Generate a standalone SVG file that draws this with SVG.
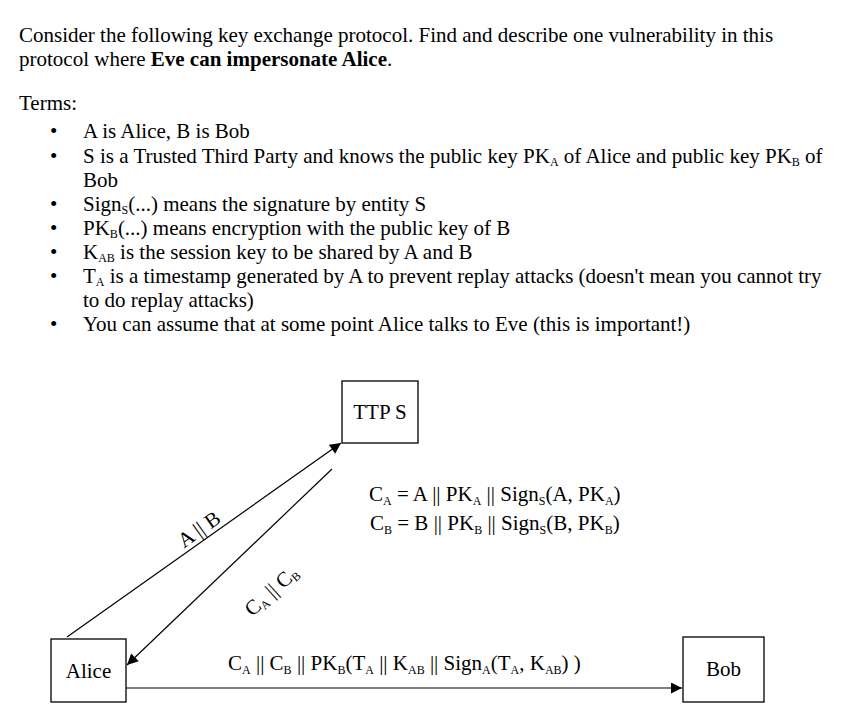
<svg xmlns="http://www.w3.org/2000/svg" width="868" height="714" viewBox="0 0 868 714">
<style>
text{font-family:"Liberation Serif",serif;font-size:21px;fill:#000}
.s{font-size:12px}
.box{fill:#fff;stroke:#000;stroke-width:1.3}
.ln{stroke:#000;stroke-width:1.2;fill:none}
</style>
<defs><marker id="ah" viewBox="0 0 10 10" refX="10" refY="5" markerWidth="14" markerHeight="11" markerUnits="userSpaceOnUse" orient="auto"><path d="M0,0L10,5L0,10z"/></marker></defs>
<rect width="868" height="714" fill="#fff"/>
<text x="19" y="42">Consider the following key exchange protocol. Find and describe one vulnerability in this</text>
<text x="19" y="66">protocol where <tspan font-weight="bold">Eve can impersonate Alice</tspan>.</text>
<text x="19" y="110">Terms:</text>
<g>
<text x="50" y="138">•</text><text x="83" y="138">A is Alice, B is Bob</text>
<text x="50" y="163">•</text><text x="83" y="163">S is a Trusted Third Party and knows the public key PK<tspan class="s" dy="3">A</tspan><tspan dy="-3"> of Alice and public key PK</tspan><tspan class="s" dy="3">B</tspan><tspan dy="-3"> of</tspan></text>
<text x="83" y="187">Bob</text>
<text x="50" y="211">•</text><text x="83" y="211">Sign<tspan class="s" dy="3">S</tspan><tspan dy="-3">(...) means the signature by entity S</tspan></text>
<text x="50" y="235">•</text><text x="83" y="235">PK<tspan class="s" dy="3">B</tspan><tspan dy="-3">(...)  means encryption with the public key of B</tspan></text>
<text x="50" y="259">•</text><text x="83" y="259">K<tspan class="s" dy="3">AB</tspan><tspan dy="-3"> is the session key to be shared by A and B</tspan></text>
<text x="50" y="283">•</text><text x="83" y="283">T<tspan class="s" dy="3">A</tspan><tspan dy="-3"> is a timestamp generated by A to prevent replay attacks (doesn't mean you cannot try</tspan></text>
<text x="83" y="307">to do replay attacks)</text>
<text x="50" y="331">•</text><text x="83" y="331">You can assume that at some point Alice talks to Eve (this is important!)</text>
</g>
<g id="ttp"><rect class="box" x="342" y="381" width="76" height="62"/><text x="380" y="419" text-anchor="middle">TTP S</text></g>
<g id="alice"><rect class="box" x="51" y="639" width="75" height="63"/><text x="88.5" y="678" text-anchor="middle">Alice</text></g>
<g id="bob"><rect class="box" x="683" y="637" width="81" height="65"/><text x="723.5" y="676" text-anchor="middle">Bob</text></g>
<g id="connectors">
<line class="ln" x1="67" y1="637" x2="341" y2="443" marker-end="url(#ah)"/>
<line class="ln" x1="332" y1="469" x2="127" y2="665" marker-end="url(#ah)"/>
<line class="ln" x1="126" y1="688" x2="682" y2="688" marker-end="url(#ah)"/>
<text transform="translate(203,535) rotate(-35.5)" text-anchor="middle" font-size="18">A || B</text>
<text transform="translate(276,596) rotate(-42)" text-anchor="middle" font-size="18">C<tspan class="s" dy="3">A</tspan><tspan dy="-3"> || C</tspan><tspan class="s" dy="3">B</tspan></text>
<text x="369" y="501">C<tspan class="s" dy="4">A</tspan><tspan dy="-4"> = A || PK</tspan><tspan class="s" dy="4">A</tspan><tspan dy="-4"> || Sign</tspan><tspan class="s" dy="4">S</tspan><tspan dy="-4">(A, PK</tspan><tspan class="s" dy="4">A</tspan><tspan dy="-4">)</tspan></text>
<text x="370" y="530">C<tspan class="s" dy="4">B</tspan><tspan dy="-4"> = B || PK</tspan><tspan class="s" dy="4">B</tspan><tspan dy="-4"> || Sign</tspan><tspan class="s" dy="4">S</tspan><tspan dy="-4">(B, PK</tspan><tspan class="s" dy="4">B</tspan><tspan dy="-4">)</tspan></text>
<text x="228" y="670">C<tspan class="s" dy="4">A</tspan><tspan dy="-4"> || C</tspan><tspan class="s" dy="4">B</tspan><tspan dy="-4"> || PK</tspan><tspan class="s" dy="4">B</tspan><tspan dy="-4">(T</tspan><tspan class="s" dy="4">A</tspan><tspan dy="-4"> || K</tspan><tspan class="s" dy="4">AB</tspan><tspan dy="-4"> || Sign</tspan><tspan class="s" dy="4">A</tspan><tspan dy="-4">(T</tspan><tspan class="s" dy="4">A</tspan><tspan dy="-4">, K</tspan><tspan class="s" dy="4">AB</tspan><tspan dy="-4">) )</tspan></text>
</g>
</svg>
